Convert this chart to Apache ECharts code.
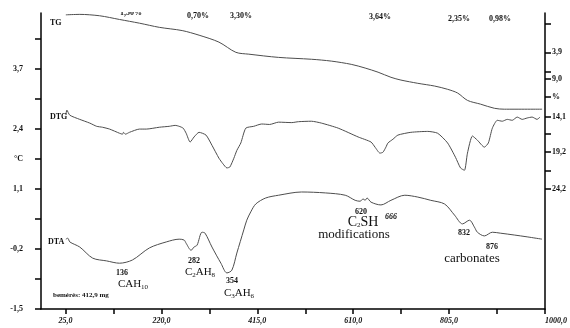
<!DOCTYPE html>
<html>
<head>
<meta charset="utf-8">
<script src="https://cdn.jsdelivr.net/npm/echarts@6/dist/echarts.min.js"></script>
<style>
  html, body { margin: 0; padding: 0; background: #fff; }
  #chart { width: 570px; height: 328px; }
</style>
</head>
<body>
<div id="chart"></div>
<script>
// temperature (°C) / signal readings
const tg = [[25.5,4.86],[53.9,4.87],[94.3,4.84],[134.7,4.76],[175.2,4.68],[215.6,4.59],[262.1,4.52],[296.5,4.42],[336.9,4.27],[371.3,4.05],[397.6,4.01],[458.3,3.94],[525.0,3.90],[565.4,3.86],[605.9,3.79],[634.2,3.71],[660.5,3.62],[686.7,3.51],[707.0,3.45],[741.3,3.38],[775.7,3.32],[802.0,3.25],[822.2,3.17],[842.4,3.01],[868.7,2.93],[897.0,2.84],[917.2,2.82],[994.1,2.82]];

const dtg = [[25.5,2.69],[27.6,2.80],[33.6,2.69],[53.8,2.60],[74.1,2.52],[88.2,2.45],[100,2.43],[114.5,2.39],[134.7,2.30],[140.8,2.28],[142.8,2.32],[146.8,2.28],[154.9,2.32],[175.1,2.39],[189.3,2.39],[215.6,2.43],[235.8,2.45],[247.9,2.47],[256.0,2.45],[264.1,2.41],[270.2,2.30],[278.3,2.11],[286.3,2.22],[296.4,2.32],[310.6,2.26],[322.7,2.04],[336.9,1.76],[345.0,1.64],[353.1,1.55],[359.1,1.57],[367.2,1.76],[373.3,1.93],[381.4,2.09],[391.5,2.41],[407.6,2.45],[423.8,2.50],[440,2.49],[458.2,2.54],[485,2.53],[498.6,2.55],[524.9,2.56],[545.1,2.52],[579.5,2.41],[619.9,2.22],[646.2,2.11],[654.3,2.00],[664.4,1.87],[670.5,1.89],[676.5,2.00],[680.6,2.09],[690.7,2.17],[700.8,2.26],[727.2,2.32],[761.5,2.34],[781.7,2.30],[801.9,2.09],[818.0,1.78],[828.2,1.55],[836.2,1.50],[842.3,1.87],[852.4,2.24],[862.5,2.15],[876.7,2.00],[884.8,2.09],[892.9,2.41],[903.0,2.58],[913.1,2.56],[923.3,2.60],[933.3,2.58],[943.5,2.65],[953.6,2.60],[963.7,2.63],[973.8,2.65],[983.8,2.60],[989.9,2.65]];

const dta = [[25.5,0.01],[29.6,0.03],[33.6,-0.05],[53.8,-0.16],[80.1,-0.40],[108.4,-0.46],[134.7,-0.51],[161.0,-0.44],[195.4,-0.18],[229.7,-0.05],[256.0,0.01],[266.2,-0.01],[270.2,-0.08],[280.3,-0.23],[286.3,-0.16],[292.4,-0.12],[302.5,0.16],[308.6,0.14],[322.7,-0.16],[340.9,-0.51],[353.1,-0.72],[363.2,-0.66],[373.3,-0.29],[387.4,0.21],[393.5,0.42],[401.6,0.60],[411.7,0.77],[431.9,0.90],[458.2,0.96],[504.7,1.03],[553.2,1.01],[593.7,0.96],[613.9,0.85],[624.0,0.83],[630.0,0.88],[634.1,0.85],[638.1,0.90],[646.2,0.81],[666.4,0.75],[686.7,0.85],[714.9,0.96],[741.3,0.92],[767.6,0.85],[795.8,0.77],[816.0,0.53],[832.2,0.34],[846.4,0.42],[856.5,0.27],[862.5,0.16],[876.7,0.08],[892.9,0.16],[909.0,0.14],[937.4,0.10],[963.7,0.06],[993.9,0.01]];

const xLabels = [25, 220, 415, 610, 805, 1000];
const xTicks = [25, 122.5, 220, 317.5, 415, 512.5, 610, 707.5, 805, 902.5, 1000];
const leftTicks = [-1.5, -0.85, -0.2, 0.45, 1.1, 1.75, 2.4, 3.05, 3.7, 4.35];
const leftLabelVals = [-1.5, -0.2, 1.1, 1.75, 2.4, 3.7];
const leftLabelText = ['-1,5', '-0,2', '1,1', '°C', '2,4', '3,7'];
// right scale is not linear on the scan, so ticks are given where they sit on the left scale
const rightTicks = [4.66, 4.05, 3.64, 3.47, 3.08, 2.65, 2.28, 1.89, 1.48, 1.09];
const rightLabelVals = [4.05, 3.47, 3.08, 2.65, 1.89, 1.09];
const rightLabelText = ['3,9', '9,0', '%', '14,1', '19,2', '24,2'];

const lookup = (vals, txt) => v => {
  const i = vals.findIndex(a => Math.abs(a - v) < 0.01);
  return i < 0 ? '' : txt[i];
};

const serif = '"Liberation Serif", "DejaVu Serif", serif';
const small = 'bold 8px ' + serif;
const sub = { fontSize: 7, fontFamily: serif, verticalAlign: 'bottom', padding: [6, 0, 0, 0] };
const tickFont = { fontFamily: serif, fontWeight: 'bold', fontSize: 8, color: '#111' };

function txt(text, x, y, font, align) {
  return {
    type: 'text', x: x, y: y, z: 10,
    style: { text: text, font: font, fill: '#111', align: align || 'center', verticalAlign: 'middle' }
  };
}
function richTxt(text, x, y, size) {
  return {
    type: 'text', x: x, y: y, z: 10,
    style: { text: text, fontSize: size, fontFamily: serif, fill: '#111', align: 'center', verticalAlign: 'middle', rich: { s: sub } }
  };
}

const chart = echarts.init(document.getElementById('chart'));
const lineStyle = { color: '#4d4d4d', width: 1 };
const axisLine = { show: true, onZero: false, lineStyle: { color: '#000', width: 1.5 } };

chart.setOption({
  animation: false,
  grid: { left: 41, right: 22, top: 13, bottom: 19 },
  xAxis: {
    type: 'value', min: -25, max: 1000,
    axisLine: axisLine,
    axisTick: { customValues: xTicks, length: 5, lineStyle: { color: '#000', width: 1.5 } },
    axisLabel: Object.assign({
      customValues: xLabels, margin: 8, fontStyle: 'italic', alignMaxLabel: 'left',
      formatter: v => v.toFixed(1).replace('.', ',')
    }, tickFont),
    splitLine: { show: false }
  },
  yAxis: [{
    type: 'value', min: -1.5, max: 4.9,
    axisLine: axisLine,
    axisTick: { show: true, customValues: leftTicks, length: 6, lineStyle: { color: '#000', width: 1.5 } },
    axisLabel: Object.assign({ customValues: leftLabelVals, formatter: lookup(leftLabelVals, leftLabelText), margin: 18 }, tickFont),
    splitLine: { show: false }
  }, {
    type: 'value', min: -1.5, max: 4.9, position: 'right',
    axisLine: axisLine,
    axisTick: { show: true, customValues: rightTicks, length: 6, lineStyle: { color: '#000', width: 1.5 } },
    axisLabel: Object.assign({ customValues: rightLabelVals, formatter: lookup(rightLabelVals, rightLabelText), margin: 7 }, tickFont),
    splitLine: { show: false }
  }],
  series: [
    { name: 'TG', type: 'line', data: tg, showSymbol: false, smooth: 0.3, lineStyle: lineStyle },
    { name: 'DTG', type: 'line', data: dtg, showSymbol: false, smooth: 0.2, lineStyle: lineStyle },
    { name: 'DTA', type: 'line', data: dta, showSymbol: false, smooth: 0.3, lineStyle: lineStyle }
  ],
  graphic: [
    txt('TG', 50, 23, small, 'left'),
    txt('DTG', 50, 117, small, 'left'),
    txt('DTA', 48, 242, small, 'left'),
    txt('1,50%', 131, 13, small),
    { type: 'rect', z: 11, shape: { x: 112, y: 0, width: 40, height: 12 }, style: { fill: '#fff' } },
    txt('0,70%', 198, 16, small),
    txt('3,30%', 241, 16, small),
    txt('3,64%', 380, 17, small),
    txt('2,35%', 459, 19, small),
    txt('0,98%', 500, 19, small),
    txt('136', 122, 273, small),
    richTxt('CAH{s|10}', 133, 284, 11),
    txt('282', 194, 261, small),
    richTxt('C{s|2}AH{s|8}', 200, 272, 11),
    txt('354', 232, 281, small),
    richTxt('C{s|3}AH{s|6}', 239, 293, 11),
    txt('620', 361, 212, small),
    richTxt('C{s|2}SH', 363, 222, 14),
    txt('modifications', 354, 235, '13px ' + serif),
    txt('666', 391, 217, 'bold italic 8px ' + serif),
    txt('832', 464, 233, small),
    txt('876', 492, 247, small),
    txt('carbonates', 472, 259, '13px ' + serif),
    txt('bemérés: 412,9 mg', 53, 295, 'bold 7px ' + serif, 'left')
  ]
});
</script>
</body>
</html>
